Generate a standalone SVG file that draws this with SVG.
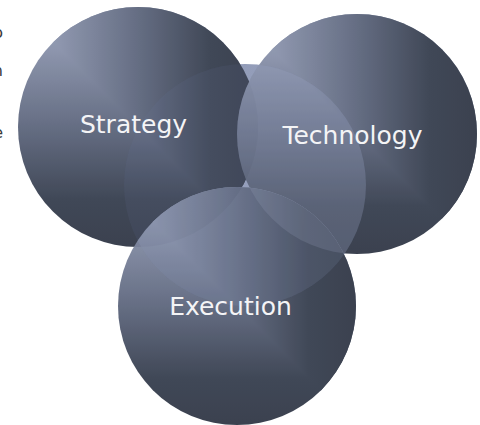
<svg xmlns="http://www.w3.org/2000/svg" width="480" height="425" viewBox="0 0 480 425">
  <defs>
    <!-- shading: light at top-left of each disc, dark towards right and bottom -->
    <linearGradient id="shadeV" x1="0" y1="0" x2="0" y2="1">
      <stop offset="0.15" stop-color="#8a93ac"/>
      <stop offset="0.5" stop-color="#5c657c"/>
      <stop offset="0.8" stop-color="#353d4d"/>
      <stop offset="1" stop-color="#2f3645"/>
    </linearGradient>
    <linearGradient id="shadeH" x1="0" y1="0" x2="1" y2="0">
      <stop offset="0.15" stop-color="#8a93ac"/>
      <stop offset="0.5" stop-color="#5c657c"/>
      <stop offset="0.8" stop-color="#353d4d"/>
      <stop offset="1" stop-color="#2f3645"/>
    </linearGradient>
    <linearGradient id="hubFill" x1="0" y1="0" x2="1" y2="1">
      <stop offset="0" stop-color="#8f99b4"/>
      <stop offset="1" stop-color="#98a1c0"/>
    </linearGradient>
    <!-- upper-right half of a bounding box: horizontal shading wins there -->
    <clipPath id="upperRight" clipPathUnits="objectBoundingBox">
      <polygon points="0,0 1,0 1,1"/>
    </clipPath>
    <clipPath id="techArea">
      <circle cx="357" cy="134" r="120"/>
    </clipPath>
    <clipPath id="execArea">
      <circle cx="237" cy="306" r="119"/>
    </clipPath>
  </defs>
  <style>
    .disc { opacity: 0.94; }
    .label { font-family: "DejaVu Sans", "Liberation Sans", sans-serif; font-size: 25px; fill: #f4f4f6; text-anchor: middle; }
    .edge { font-family: "DejaVu Sans", "Liberation Sans", sans-serif; font-size: 16px; fill: #3a3a3a; text-anchor: end; }
    .glaze { fill: #a7b0cc; }
  </style>

  <rect width="480" height="425" fill="#ffffff"/>

  <!-- clipped ends of text lines at the left margin -->
  <g id="margin-text">
    <text class="edge" x="3" y="38">o</text>
    <text class="edge" x="3" y="76" fill="#8a8a8a">n</text>
    <text class="edge" x="3" y="138">e</text>
  </g>

  <!-- shared centre disc behind the three sets -->
  <g id="hub">
    <circle cx="245" cy="185" r="121" fill="url(#hubFill)"/>
  </g>

  <g id="strategy" class="disc">
    <circle cx="138" cy="127" r="120" fill="url(#shadeV)"/>
    <circle cx="138" cy="127" r="120" fill="url(#shadeH)" clip-path="url(#upperRight)"/>
  </g>

  <g id="technology" class="disc">
    <circle cx="357" cy="134" r="120" fill="url(#shadeV)"/>
    <circle cx="357" cy="134" r="120" fill="url(#shadeH)" clip-path="url(#upperRight)"/>
  </g>

  <g id="execution" class="disc">
    <circle cx="237" cy="306" r="119" fill="url(#shadeV)"/>
    <circle cx="237" cy="306" r="119" fill="url(#shadeH)" clip-path="url(#upperRight)"/>
  </g>

  <!-- light glaze of the centre disc showing through the sets -->
  <g id="hub-glaze">
    <circle class="glaze" cx="245" cy="185" r="121" opacity="0.1"/>
    <circle class="glaze" cx="245" cy="185" r="121" opacity="0.22" clip-path="url(#techArea)"/>
    <circle class="glaze" cx="245" cy="185" r="121" opacity="0.08" clip-path="url(#execArea)"/>
  </g>

  <g id="labels">
    <text class="label" x="133.5" y="133">Strategy</text>
    <text class="label" x="352.5" y="144">Technology</text>
    <text class="label" x="230.5" y="315">Execution</text>
  </g>
</svg>
